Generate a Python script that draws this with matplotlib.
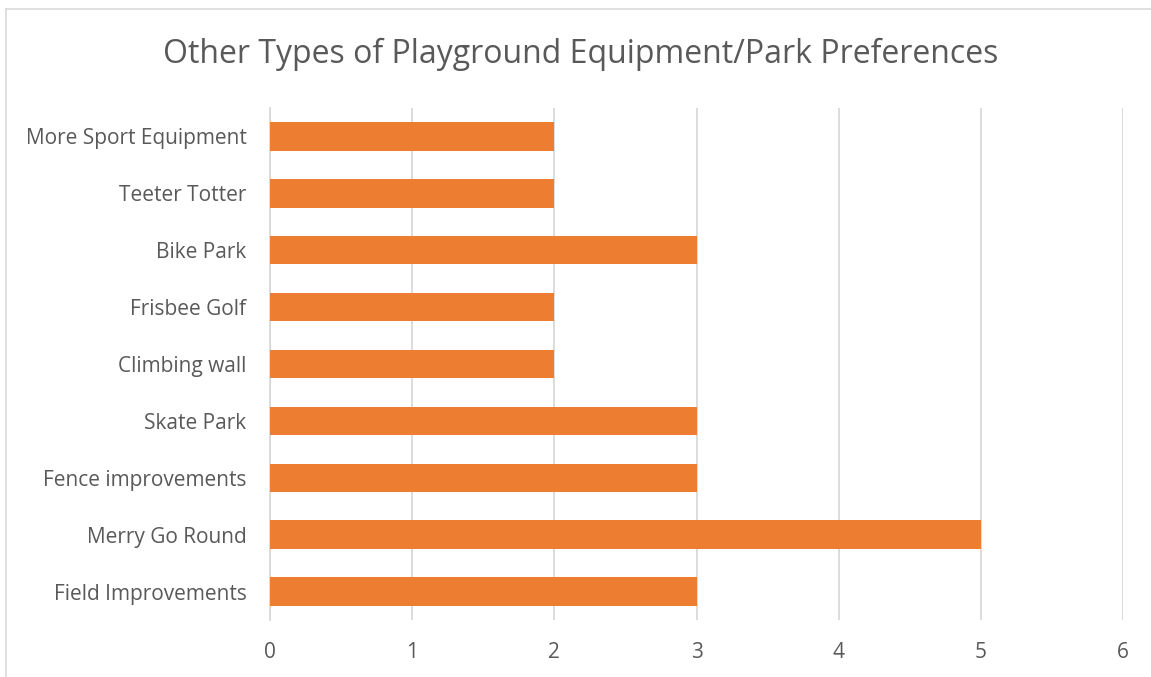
import matplotlib.pyplot as plt
from matplotlib.patches import Rectangle

plt.rcParams['font.family'] = ['Open Sans', 'DejaVu Sans']

### Data

categories = ['Field Improvements', 'Merry Go Round', 'Fence improvements', 'Skate Park',
              'Climbing wall', 'Frisbee Golf', 'Bike Park', 'Teeter Totter',
              'More Sport Equipment']
counts = [3, 5, 3, 3, 2, 2, 3, 2, 2]
x_ticks = [0, 1, 2, 3, 4, 5, 6]

title = 'Other Types of Playground Equipment/Park Preferences'


### Plot

text_color = '#595959'
grid_color = '#D9D9D9'

fig = plt.figure(figsize=(11.51, 6.77), dpi=100)
ax = fig.add_axes([270 / 1151, 1 - 620 / 677, (1123 - 270) / 1151, (620 - 108) / 677])

ax.barh(range(len(categories)), counts, height=0.5, color='#ED7D31', zorder=3)

ax.set_xlim(0, 6)
ax.set_ylim(-0.5, len(categories) - 0.5)
ax.set_xticks(x_ticks)
ax.set_yticks(range(len(categories)))
ax.set_yticklabels(categories)
ax.grid(axis='x', color=grid_color, linewidth=1.3, zorder=0)
ax.tick_params(axis='both', length=0, colors=text_color, labelsize=15)
ax.tick_params(axis='x', pad=16)
ax.tick_params(axis='y', pad=17)
for side in ['top', 'right', 'bottom']:
    ax.spines[side].set_visible(False)
ax.spines['left'].set_color(grid_color)
ax.spines['left'].set_linewidth(1.3)

fig.text(581 / 1151, 1 - 54 / 677, title, ha='center', va='center',
         fontsize=23, color=text_color)

# chart border
fig.patches.append(Rectangle((6 / 1151, -0.01), 1.02, 1 - 9 / 677 + 0.01,
                             transform=fig.transFigure, fill=False,
                             edgecolor='#D9D9D9', linewidth=1.2))

fig.savefig('out.png', dpi=100)
